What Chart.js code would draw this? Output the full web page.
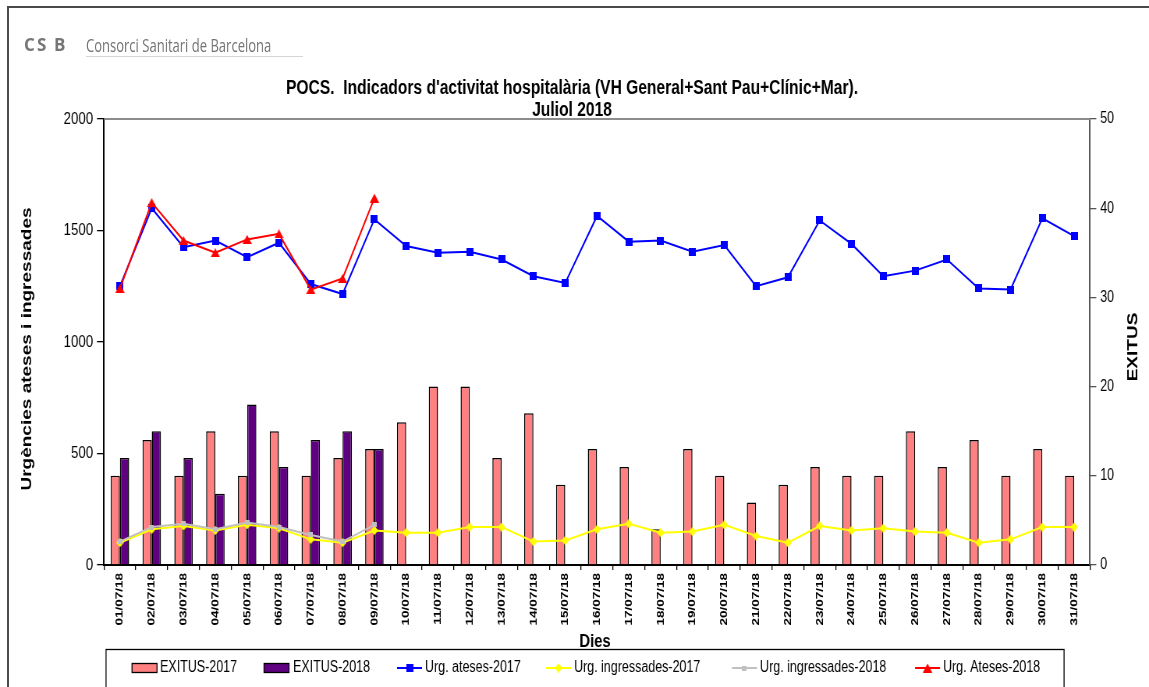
<!DOCTYPE html>
<html>
<head>
<meta charset="utf-8">
<script src="https://cdn.jsdelivr.net/npm/chart.js@4.4.1/dist/chart.umd.min.js"></script>
<style>
html,body{margin:0;padding:0;background:#fff;overflow:hidden;}
#wrap{position:absolute;left:0;top:0;width:1149px;height:687px;overflow:hidden;background:#fff;}
#frameTop{position:absolute;left:7px;top:6px;width:1142px;height:2px;background:#4a4a4a;}
#frameLeft{position:absolute;left:7px;top:6px;width:2px;height:681px;background:#4a4a4a;}
#squeeze{position:absolute;left:0;top:0;height:687px;transform-origin:0 0;}
#chart{position:absolute;left:0;top:0;}
.csb{position:absolute;top:35px;font:bold 17px 'Open Sans',sans-serif;color:#767676;line-height:20px;}
#csbName{position:absolute;left:86px;top:33px;font:19px 'Open Sans',sans-serif;color:#747474;white-space:nowrap;transform-origin:0 0;line-height:24px;}
#logoLine{position:absolute;left:86px;top:56px;width:217px;height:1px;background:#d4d4d4;}
</style>
</head>
<body>
<div id="wrap">
  <div id="squeeze"><canvas id="chart"></canvas></div>
  <div id="frameTop"></div>
  <div id="frameLeft"></div>
  <span class="csb" style="left:24px">C</span>
  <span class="csb" style="left:37px">S</span>
  <span class="csb" style="left:54px">B</span>
  <span id="csbName">Consorci Sanitari de Barcelona</span>
  <div id="logoLine"></div>
</div>
<script>
// ---------------- data ----------------
const days = ['01/07/18','02/07/18','03/07/18','04/07/18','05/07/18','06/07/18','07/07/18','08/07/18','09/07/18','10/07/18',
  '11/07/18','12/07/18','13/07/18','14/07/18','15/07/18','16/07/18','17/07/18','18/07/18','19/07/18','20/07/18',
  '21/07/18','22/07/18','23/07/18','24/07/18','25/07/18','26/07/18','27/07/18','28/07/18','29/07/18','30/07/18','31/07/18'];
const exitus2017 = [10,14,10,15,10,15,10,12,13,16,20,20,12,17,9,13,11,4,13,10,7,9,11,10,10,15,11,14,10,13,10];
const exitus2018 = [12,15,12,8,18,11,14,15,13];
const ateses2017 = [1250,1600,1425,1455,1380,1445,1260,1215,1550,1430,1400,1405,1370,1295,1265,1565,1450,1455,1405,1435,
  1250,1290,1545,1440,1295,1320,1370,1240,1235,1555,1475];
const ingressades2017 = [100,160,175,155,180,165,115,100,155,145,145,170,170,105,110,160,185,145,150,180,
  130,100,175,155,165,150,145,100,115,170,170];
const ingressades2018 = [105,170,185,160,190,170,135,105,180];
const ateses2018 = [1240,1625,1455,1400,1460,1485,1235,1285,1645];
const leftTicks = [0,500,1000,1500,2000];
const rightTicks = [0,10,20,30,40,50];
const seriesNames = ['EXITUS-2017','EXITUS-2018','Urg. ateses-2017','Urg. ingressades-2017','Urg. ingressades-2018','Urg. Ateses-2018'];
const titleLines = ["POCS.  Indicadors d'activitat hospitalària (VH General+Sant Pau+Clínic+Mar).", 'Juliol 2018'];
const yTitle = 'Urgències ateses i ingressades';
const y1Title = 'EXITUS';
const xTitle = 'Dies';

// ---------------- layout (horizontal squeeze like the reference) ----------------
const S = 0.78;
const W = Math.round(1149 / S);
const H = 687;
const X = v => v / S;
const FONT = "'Liberation Sans', Arial, sans-serif";

const sq = document.getElementById('squeeze');
sq.style.width = W + 'px';
sq.style.transform = 'scaleX(' + (1149 / W) + ')';
const cv = document.getElementById('chart');
cv.width = W; cv.height = H;
cv.style.width = W + 'px'; cv.style.height = H + 'px';

function marker(w, h, draw) {
  const c = document.createElement('canvas');
  c.width = w; c.height = h;
  draw(c.getContext('2d'), w, h);
  return c;
}
const mSquare = marker(9, 8, (c, w, h) => { c.fillStyle = '#0000FF'; c.fillRect(0, 0, w, h); });
const mTri = marker(12, 9, (c, w, h) => { c.fillStyle = '#FF0000'; c.beginPath(); c.moveTo(w/2, 0); c.lineTo(w, h); c.lineTo(0, h); c.closePath(); c.fill(); });
const mDiamond = marker(10, 9, (c, w, h) => { c.fillStyle = '#FFFF00'; c.beginPath(); c.moveTo(w/2, 0); c.lineTo(w, h/2); c.lineTo(w/2, h); c.lineTo(0, h/2); c.closePath(); c.fill(); });
const mGray = marker(6, 5, (c, w, h) => { c.fillStyle = '#C0C0C0'; c.fillRect(0, 0, w, h); });

const legendLayout = [
  {type:'box', x:132, tx:160},
  {type:'box', x:264, tx:293},
  {type:'line', x:397, tx:425},
  {type:'line', x:546, tx:574},
  {type:'line', x:732, tx:760},
  {type:'line', x:915, tx:943}
];

const decor = {
  id: 'decor',
  beforeDatasetsDraw(chart) {
    const ctx = chart.ctx, ca = chart.chartArea;
    ctx.save();
    ctx.strokeStyle = '#8c8c8c'; ctx.lineWidth = 2;
    ctx.beginPath(); ctx.moveTo(ca.left, ca.top); ctx.lineTo(ca.right, ca.top); ctx.stroke();
    ctx.restore();
  },
  afterDraw(chart) {
    const ctx = chart.ctx;
    ctx.save();
    ctx.fillStyle = '#000';
    ctx.textAlign = 'center';
    ctx.textBaseline = 'middle';
    ctx.font = 'bold 20px ' + FONT;
    ctx.fillText(titleLines[0], X(572), 88);
    ctx.fillText(titleLines[1], X(572), 110);
    ctx.font = 'bold 19px ' + FONT;
    ctx.save(); ctx.translate(X(27), 349); ctx.rotate(-Math.PI/2); ctx.fillText(yTitle, 0, 0); ctx.restore();
    ctx.save(); ctx.translate(X(1133), 347); ctx.rotate(-Math.PI/2); ctx.fillText(y1Title, 0, 0); ctx.restore();
    ctx.fillText(xTitle, X(595), 642);
    // legend box
    ctx.strokeStyle = '#000'; ctx.lineWidth = 1.3;
    ctx.strokeRect(X(106), 649.5, X(1064) - X(106), 60);
    ctx.font = '16px ' + FONT;
    ctx.textAlign = 'left';
    const yL = 668;
    chart.data.datasets.forEach((ds, i) => {
      const L = legendLayout[i];
      if (L.type === 'box') {
        ctx.fillStyle = ds.backgroundColor;
        ctx.fillRect(X(L.x), yL - 4.5, X(L.x + 25) - X(L.x), 9);
        ctx.strokeStyle = '#000'; ctx.lineWidth = 1.3;
        ctx.strokeRect(X(L.x), yL - 4.5, X(L.x + 25) - X(L.x), 9);
      } else {
        ctx.strokeStyle = ds.borderColor; ctx.lineWidth = 2;
        ctx.beginPath(); ctx.moveTo(X(L.x), yL); ctx.lineTo(X(L.x + 25), yL); ctx.stroke();
        const m = ds.pointStyle;
        ctx.drawImage(m, X(L.x + 12.5) - m.width/2, yL - m.height/2);
      }
      ctx.fillStyle = '#000';
      ctx.fillText(ds.label, X(L.tx), yL);
    });
    ctx.restore();
  }
};

new Chart(cv, {
  data: {
    labels: days,
    datasets: [
      {type:'bar', label:seriesNames[0], data:exitus2017, yAxisID:'y1', backgroundColor:'#FF8080', borderColor:'#000', borderWidth:1.5, borderSkipped:'start', order:5, barPercentage:1, categoryPercentage:0.58},
      {type:'bar', label:seriesNames[1], data:exitus2018, yAxisID:'y1', backgroundColor:'#5E0080', borderColor:'#000', borderWidth:1.5, borderSkipped:'start', order:5, barPercentage:1, categoryPercentage:0.58},
      {type:'line', label:seriesNames[2], data:ateses2017, yAxisID:'y', borderColor:'#0000FF', borderWidth:2, pointStyle:mSquare, pointRadius:4, tension:0, order:4},
      {type:'line', label:seriesNames[3], data:ingressades2017, yAxisID:'y', borderColor:'#FFFF00', borderWidth:2, pointStyle:mDiamond, pointRadius:4, tension:0, order:3},
      {type:'line', label:seriesNames[4], data:ingressades2018, yAxisID:'y', borderColor:'#C0C0C0', borderWidth:2, pointStyle:mGray, pointRadius:3, tension:0, order:2},
      {type:'line', label:seriesNames[5], data:ateses2018, yAxisID:'y', borderColor:'#FF0000', borderWidth:2, pointStyle:mTri, pointRadius:4, tension:0, order:1}
    ]
  },
  options: {
    responsive: false,
    devicePixelRatio: 1,
    animation: false,
    events: [],
    layout: {padding: {top: 119, left: 0, right: 0, bottom: 0}},
    plugins: {legend: {display: false}, title: {display: false}, tooltip: {enabled: false}},
    scales: {
      x: {
        type: 'category', offset: true,
        grid: {offset: true, drawOnChartArea: false, drawTicks: true, tickLength: 5, color: '#000', lineWidth: 1.3},
        border: {color: '#000', width: 2},
        ticks: {minRotation: 90, maxRotation: 90, autoSkip: false, padding: 3, color: '#000', font: {family: FONT, size: 13.5, weight: 'bold'}},
        afterFit: s => { s.height = H - 565; }
      },
      y: {
        position: 'left',
        min: leftTicks[0], max: leftTicks[leftTicks.length - 1],
        ticks: {stepSize: leftTicks[1] - leftTicks[0], color: '#000', padding: 5, font: {family: FONT, size: 17},
          callback: v => String(v)},
        grid: {drawOnChartArea: false, tickLength: 9, color: '#000', lineWidth: 1.3},
        border: {color: '#000', width: 2},
        afterFit: s => { s.width = X(104); }
      },
      y1: {
        position: 'right',
        min: rightTicks[0], max: rightTicks[rightTicks.length - 1],
        ticks: {stepSize: rightTicks[1] - rightTicks[0], color: '#000', padding: 5, font: {family: FONT, size: 16},
          callback: v => String(v)},
        grid: {drawOnChartArea: false, tickLength: 8, color: '#555', lineWidth: 1.3},
        border: {color: '#555', width: 2},
        afterFit: s => { s.width = W - X(1090); }
      }
    }
  },
  plugins: [decor]
});

// fit logo name to its width in the reference
const nm = document.getElementById('csbName');
const fit = () => { nm.style.transform = 'none'; const w = nm.offsetWidth; if (w) nm.style.transform = 'scaleX(' + (185 / w) + ')'; };
fit();
if (document.fonts && document.fonts.ready) document.fonts.ready.then(fit);
</script>
</body>
</html>
